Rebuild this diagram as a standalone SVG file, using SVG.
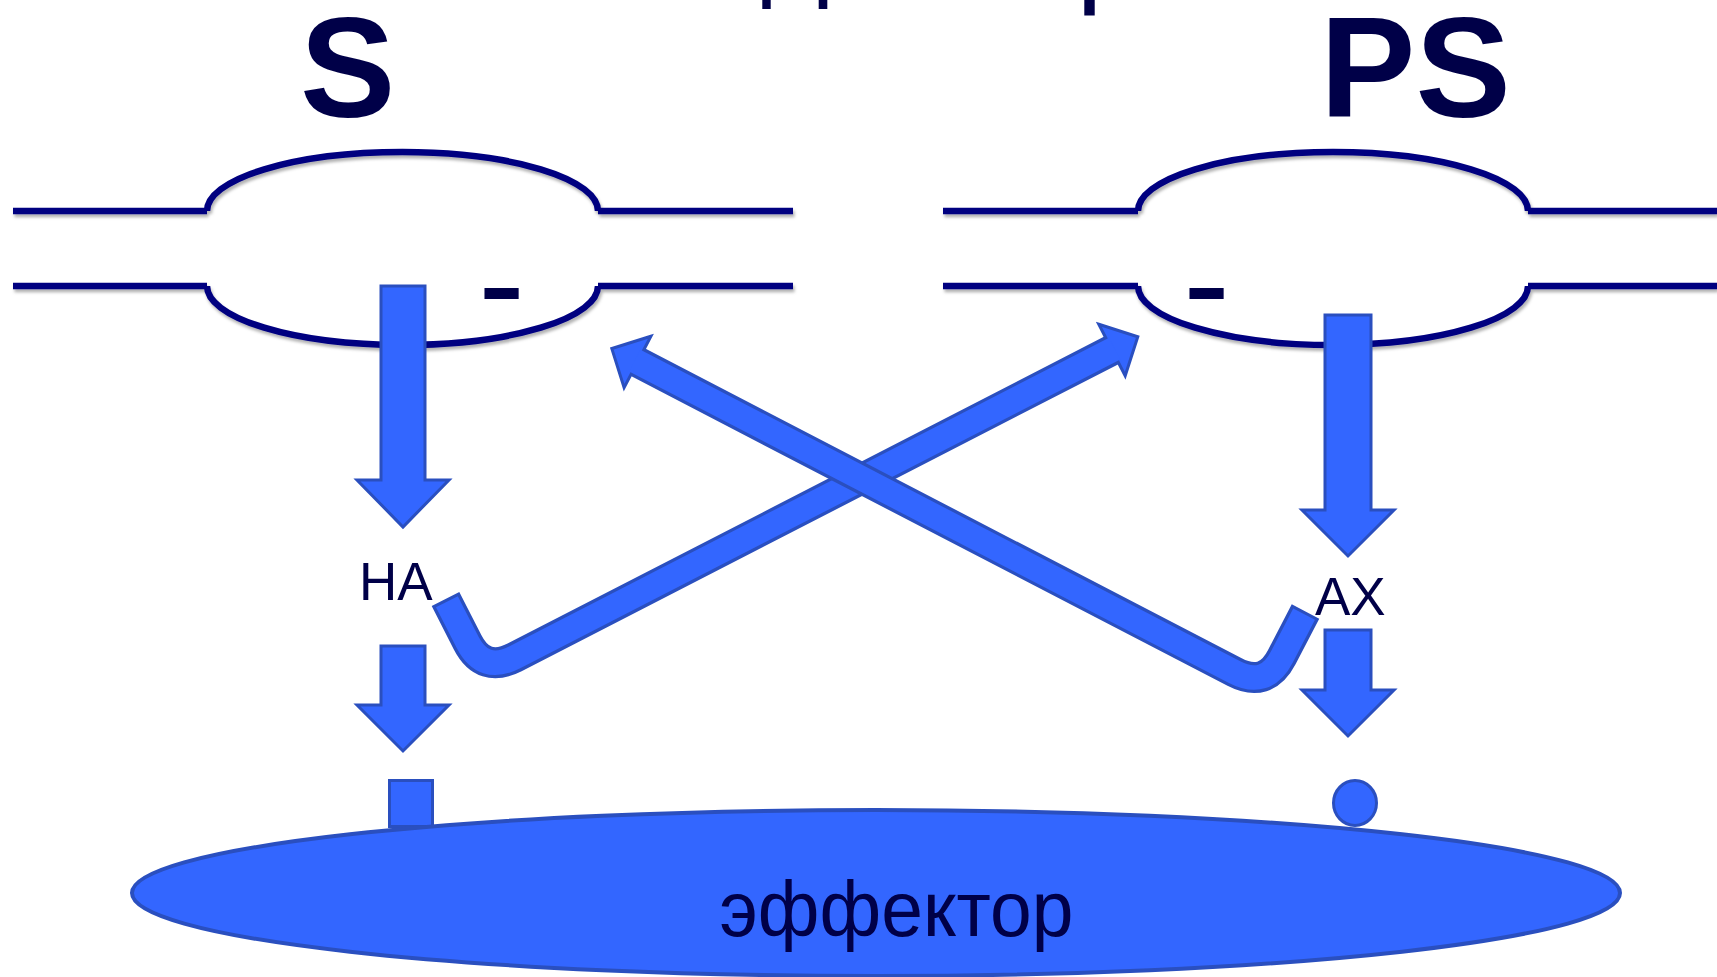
<svg xmlns="http://www.w3.org/2000/svg" width="1717" height="977" viewBox="0 0 1717 977">
  <defs>
    <filter id="soft" x="-5%" y="-30%" width="110%" height="170%">
      <feDropShadow dx="1.5" dy="3" stdDeviation="1.6" flood-color="#000" flood-opacity="0.3"/>
    </filter>
  </defs>
  <style>
    .mem{fill:none;stroke:#000080;stroke-width:6.5;stroke-linecap:butt}
    .blk{fill:#3366FF;stroke:#2A4FBF;stroke-width:3;stroke-linejoin:miter}
    .edge{fill:none;stroke:#2A4FBF;stroke-width:31;stroke-linecap:butt}
    .core{fill:none;stroke:#3366FF;stroke-width:24.5;stroke-linecap:butt}
    .lbl{font-family:"Liberation Sans",Arial,sans-serif;fill:#000048}
    .big{font-size:143px;font-weight:bold}
    .mid{font-size:53px}
    .dash{font-size:140px}
  </style>
  <rect width="1717" height="977" fill="#fff"/>

  <!-- descender strokes of a heading that sits above the frame -->
  <g id="heading-tail" fill="#000048">
    <rect x="762.3" y="0" width="8.4" height="9"/>
    <rect x="818.7" y="0" width="8.6" height="9"/>
    <rect x="1084.3" y="0" width="10.4" height="15.5"/>
  </g>

  <!-- sympathetic ganglion -->
  <g id="neuron-s">
    <g class="mem" filter="url(#soft)">
      <path d="M13,211 H207 M598,211 H793 M13,286 H207 M598,286 H793"/>
      <path d="M207,211 A195.5,59 0 0 1 598,211"/>
      <path d="M207,286 A195.5,59 0 0 0 598,286"/>
    </g>
    <text class="lbl big" x="300" y="117">S</text>
    <text class="lbl dash" x="478.3" y="330.8">-</text>
  </g>

  <!-- parasympathetic ganglion -->
  <g id="neuron-ps">
    <g class="mem" filter="url(#soft)">
      <path d="M943,211 H1138 M1528,211 H1717 M943,286 H1138 M1528,286 H1717"/>
      <path d="M1138,211 A195,59 0 0 1 1528,211"/>
      <path d="M1138,286 A195,59 0 0 0 1528,286"/>
    </g>
    <text class="lbl big" x="1320" y="117">PS</text>
    <text class="lbl dash" x="1183.3" y="330.8">-</text>
  </g>

  <!-- mediator labels -->
  <g id="label-na"><text class="lbl mid" x="359" y="600">НА</text></g>
  <g id="label-ach"><text class="lbl mid" x="1315" y="615">АХ</text></g>

  <!-- connectors -->
  <g id="connectors">
    <polygon class="blk" points="381,286 425,286 425,480 449,480 403,527 357,480 381,480"/>
    <polygon class="blk" points="381,646 425,646 425,705 449,705 403,751 357,705 381,705"/>
    <polygon class="blk" points="1325,315 1371,315 1371,510 1394,510 1348,556 1302,510 1325,510"/>
    <polygon class="blk" points="1325,630 1371,630 1371,690 1394,690 1348,736 1302,690 1325,690"/>

    <!-- hooked arrow from НА toward PS -->
    <g id="cross-na-ps">
      <path class="edge" d="M445.5,599 L467.5,642.1 Q483.4,673.3 514.6,657.4 L1113.8,349.1"/>
      <polygon class="blk" points="1098.8,324.2 1137.8,336.8 1125.2,375.8"/>
      <path class="core" d="M446.9,601.7 L467.5,642.1 Q483.4,673.3 514.6,657.4 L1114.7,348.6"/>
    </g>

    <!-- hooked arrow from АХ toward S -->
    <g id="cross-ach-s">
      <path class="edge" d="M1305.5,611.5 L1281.8,657.1 Q1265.7,688.2 1234.6,672.1 L635.7,361.1"/>
      <polygon class="blk" points="650.9,336.3 611.8,348.6 624.1,387.7"/>
      <path class="core" d="M1304.1,614.2 L1281.8,657.1 Q1265.7,688.2 1234.6,672.1 L634.8,360.6"/>
    </g>
  </g>

  <!-- receptors -->
  <g id="receptor-a"><rect class="blk" x="389.5" y="780.5" width="43" height="46"/></g>
  <g id="receptor-m"><ellipse class="blk" cx="1355" cy="803" rx="21.5" ry="22.5"/></g>

  <!-- effector organ -->
  <g id="effector">
    <ellipse cx="876" cy="893" rx="744" ry="83" fill="#3366FF" stroke="#2A4FBF" stroke-width="4"/>
    <text class="lbl" x="719.5" y="936" font-size="77" textLength="354" lengthAdjust="spacingAndGlyphs">эффектор</text>
  </g>
</svg>
